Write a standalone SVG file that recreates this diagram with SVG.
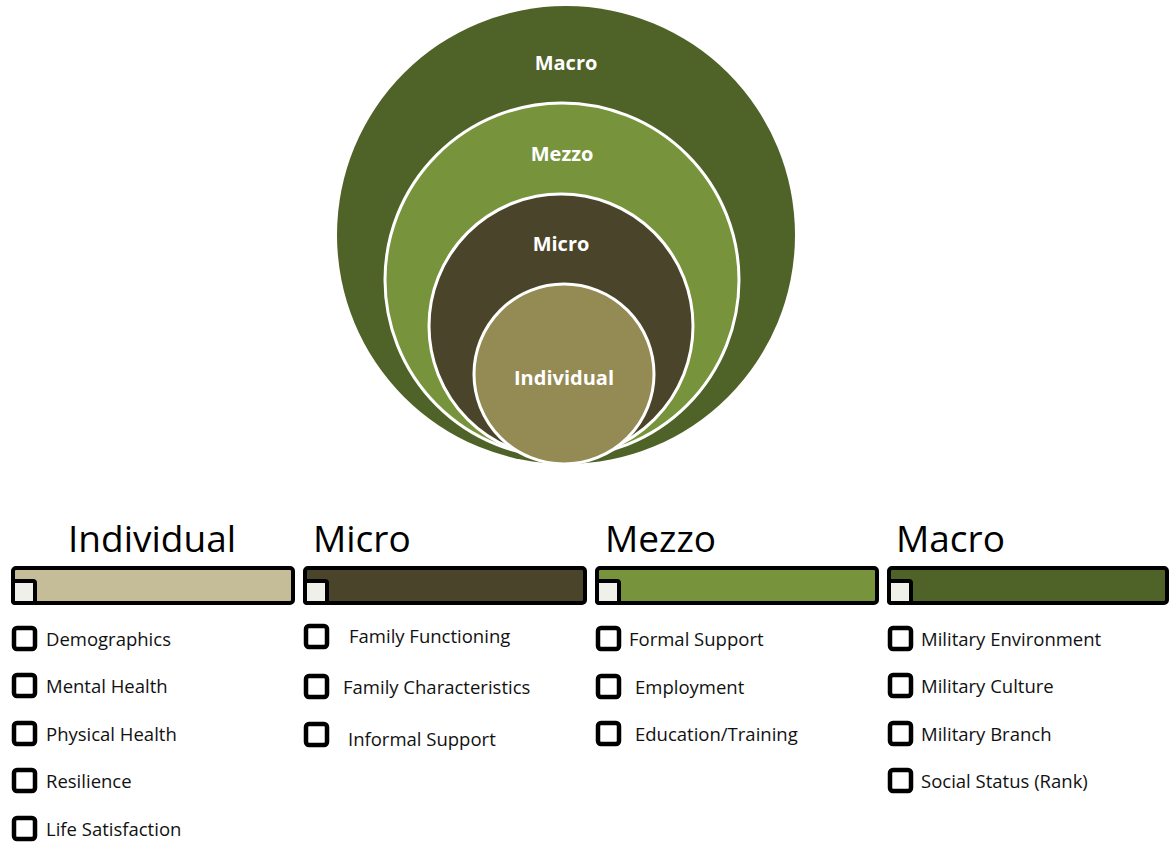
<svg xmlns="http://www.w3.org/2000/svg" width="1170" height="842" viewBox="0 0 1170 842">
  <style>
    .ring { stroke: #ffffff; stroke-width: 3; }
    .ringlabel { font-family: "Open Sans", "Liberation Sans", sans-serif; font-weight: 700; font-size: 20px; fill: #ffffff; text-anchor: middle; }
    .head { font-family: "Open Sans", "Liberation Sans", sans-serif; font-size: 37px; fill: #000000; }
    .bar { stroke: #000000; stroke-width: 4; }
    .tab { fill: #f0f0ea; stroke: #000000; stroke-width: 4; }
    .box { fill: #ffffff; stroke: #000000; stroke-width: 4.5; }
    .item { font-family: "Open Sans", "Liberation Sans", sans-serif; font-size: 18.5px; fill: #111111; }
  </style>
  <rect width="1170" height="842" fill="#ffffff"/>

  <!-- nested circles -->
  <g id="circle-macro">
    <circle cx="566" cy="235" r="229" fill="#4f6228"/>
    <text class="ringlabel" x="566" y="70">Macro</text>
  </g>
  <g id="circle-mezzo">
    <circle class="ring" cx="562" cy="280" r="177" fill="#77933c"/>
    <text class="ringlabel" x="562" y="161">Mezzo</text>
  </g>
  <g id="circle-micro">
    <circle class="ring" cx="561" cy="326" r="132" fill="#4a452a"/>
    <text class="ringlabel" x="561" y="251">Micro</text>
  </g>
  <g id="circle-individual">
    <circle class="ring" cx="564" cy="374" r="90" fill="#948a54"/>
    <text class="ringlabel" x="564" y="385">Individual</text>
  </g>

  <!-- Individual column -->
  <g id="col-individual">
    <text class="head" x="68" y="552">Individual</text>
    <rect class="bar" x="13" y="568" width="280" height="35" rx="3" fill="#c4bd97"/>
    <rect class="tab" x="13" y="581" width="22" height="22" rx="2"/>
    <rect class="box" x="14" y="628" width="21" height="21" rx="3"/>
    <text class="item" x="46" y="646">Demographics</text>
    <rect class="box" x="14" y="675" width="21" height="21" rx="3"/>
    <text class="item" x="46" y="693">Mental Health</text>
    <rect class="box" x="14" y="723" width="21" height="21" rx="3"/>
    <text class="item" x="46" y="741">Physical Health</text>
    <rect class="box" x="14" y="770" width="21" height="21" rx="3"/>
    <text class="item" x="46" y="788">Resilience</text>
    <rect class="box" x="14" y="818" width="21" height="21" rx="3"/>
    <text class="item" x="46" y="836">Life Satisfaction</text>
  </g>

  <!-- Micro column -->
  <g id="col-micro">
    <text class="head" x="313" y="552">Micro</text>
    <rect class="bar" x="305" y="568" width="280" height="35" rx="3" fill="#4a452a"/>
    <rect class="tab" x="305" y="581" width="22" height="22" rx="2"/>
    <rect class="box" x="306" y="626" width="21" height="21" rx="3"/>
    <text class="item" x="349" y="643">Family Functioning</text>
    <rect class="box" x="306" y="676" width="21" height="21" rx="3"/>
    <text class="item" x="343" y="694">Family Characteristics</text>
    <rect class="box" x="306" y="724" width="21" height="21" rx="3"/>
    <text class="item" x="348" y="746">Informal Support</text>
  </g>

  <!-- Mezzo column -->
  <g id="col-mezzo">
    <text class="head" x="605" y="552">Mezzo</text>
    <rect class="bar" x="597" y="568" width="280" height="35" rx="3" fill="#77933c"/>
    <rect class="tab" x="597" y="581" width="22" height="22" rx="2"/>
    <rect class="box" x="598" y="628" width="21" height="21" rx="3"/>
    <text class="item" x="629" y="646">Formal Support</text>
    <rect class="box" x="598" y="676" width="21" height="21" rx="3"/>
    <text class="item" x="635" y="694">Employment</text>
    <rect class="box" x="598" y="723" width="21" height="21" rx="3"/>
    <text class="item" x="635" y="741">Education/Training</text>
  </g>

  <!-- Macro column -->
  <g id="col-macro">
    <text class="head" x="896" y="552">Macro</text>
    <rect class="bar" x="889" y="568" width="278" height="35" rx="3" fill="#4f6228"/>
    <rect class="tab" x="889" y="581" width="22" height="22" rx="2"/>
    <rect class="box" x="890" y="628" width="21" height="21" rx="3"/>
    <text class="item" x="921" y="646">Military Environment</text>
    <rect class="box" x="890" y="675" width="21" height="21" rx="3"/>
    <text class="item" x="921" y="693">Military Culture</text>
    <rect class="box" x="890" y="723" width="21" height="21" rx="3"/>
    <text class="item" x="921" y="741">Military Branch</text>
    <rect class="box" x="890" y="770" width="21" height="21" rx="3"/>
    <text class="item" x="921" y="788">Social Status (Rank)</text>
  </g>
</svg>
